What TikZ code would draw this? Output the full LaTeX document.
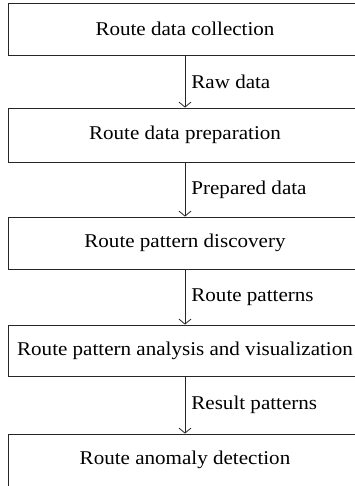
\documentclass[tikz,border=0pt]{standalone}
\usepackage{fontspec}
\setmainfont{Liberation Serif}[FakeStretch=1.08]
\usetikzlibrary{arrows.meta}
\begin{document}
\begin{tikzpicture}[x=1pt,y=-1pt,
  stagebox/.style={draw=black!85, line width=0.8pt, minimum width=354pt, inner sep=0pt, font=\fontsize{19.5}{22}\selectfont},
  flowarrow/.style={draw=black!85, line width=0.8pt, -{Straight Barb[length=5pt,width=12pt,line width=0.8pt]}},
  flowlabel/.style={right, inner sep=0pt, xshift=6pt, font=\fontsize{19.5}{22}\selectfont}]
\useasboundingbox (0,0) rectangle (355,486);
\clip (0,0) rectangle (355,486);
\node[stagebox, minimum height=52pt] (b1) at (185,29) {Route data collection};
\node[stagebox, minimum height=54pt] (b2) at (185,135) {Route data preparation};
\node[stagebox, minimum height=52pt] (b3) at (185,243) {Route pattern discovery};
\node[stagebox, minimum height=51pt] (b4) at (185,350.5) {Route pattern analysis and visualization};
\node[stagebox, minimum height=52pt] (b5) at (185,460) {Route anomaly detection};
\draw[flowarrow] (b1.south) -- node[flowlabel] (l1) {Raw data} (b2.north);
\draw[flowarrow] (b2.south) -- node[flowlabel] (l2) {Prepared data} (b3.north);
\draw[flowarrow] (b3.south) -- node[flowlabel] (l3) {Route patterns} (b4.north);
\draw[flowarrow] (b4.south) -- node[flowlabel] (l4) {Result patterns} (b5.north);
\end{tikzpicture}
\end{document}
